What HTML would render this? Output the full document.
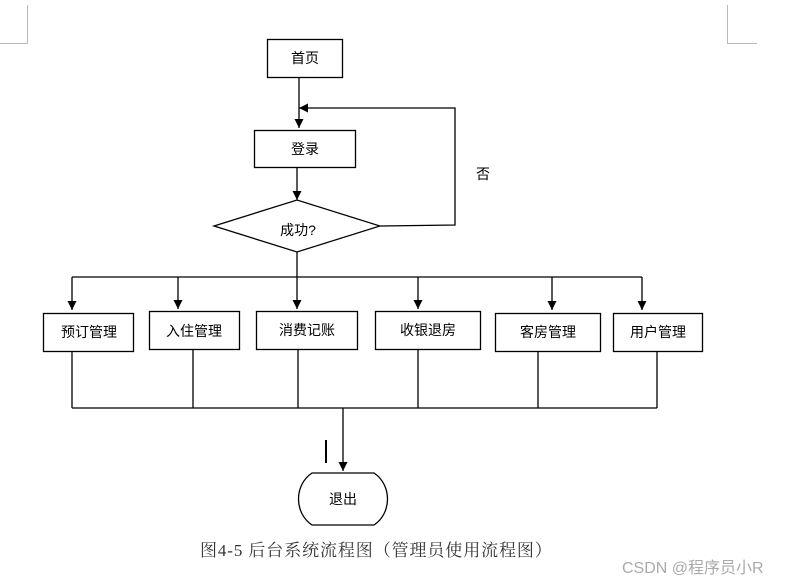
<!DOCTYPE html>
<html><head><meta charset="utf-8"><style>
html,body{margin:0;padding:0;background:#fff;width:793px;height:584px;overflow:hidden}
svg{display:block}
text{font-family:"Liberation Sans","Noto Sans CJK SC",sans-serif;font-size:14px;fill:#000}
</style></head><body>
<svg width="793" height="584" viewBox="0 0 793 584" xmlns="http://www.w3.org/2000/svg">
<defs><marker id="a" viewBox="0 0 10 10" refX="10" refY="5" markerWidth="7" markerHeight="7" orient="auto-start-reverse"><path d="M0,0L10,5L0,10z" fill="#000"/></marker></defs>
<g stroke="#bbb" fill="none" stroke-width="1">
<path d="M0,43.5H27.5V5"/><path d="M727.5,5V43.5H757"/>
</g>
<g stroke="#000" fill="none" stroke-width="1.3">
<rect x="267.5" y="39.5" width="75" height="38"/>
<rect x="254.5" y="130.5" width="101" height="37"/>
<path d="M214,226L297,200L380,226L297,252Z"/>
<path d="M299,78V128" marker-end="url(#a)"/>
<path d="M297,168V200" marker-end="url(#a)"/>
<path d="M380,226L455,225V108H299" marker-end="url(#a)"/>
<path d="M72,277H642"/>
<path d="M72,277V310" marker-end="url(#a)"/>
<path d="M178,277V309" marker-end="url(#a)"/>
<path d="M297,252V309" marker-end="url(#a)"/>
<path d="M418,277V309" marker-end="url(#a)"/>
<path d="M552,277V310" marker-end="url(#a)"/>
<path d="M642,277V310" marker-end="url(#a)"/>
<rect x="43.5" y="313.5" width="90" height="38"/>
<rect x="149.5" y="311.5" width="90" height="38"/>
<rect x="256.5" y="311.5" width="101" height="38"/>
<rect x="375.5" y="311.5" width="105" height="38"/>
<rect x="495.5" y="313.5" width="105" height="38"/>
<rect x="613.5" y="313.5" width="89" height="38"/>
<path d="M72,352V408M193,350V408M298,350V408M418,350V408M538,352V408M657,352V408M72,408H657"/>
<path d="M343,408V471" marker-end="url(#a)"/>
<path d="M326,440V463" stroke-width="2"/>
<path d="M312,473H374C392,485 392,513 374,525H312C294,513 294,485 312,473Z"/>
</g>
<g text-anchor="middle">
<text x="305" y="63">首页</text>
<text x="305" y="154">登录</text>
<text x="298" y="235">成功?</text>
<text x="483" y="179">否</text>
<text x="89" y="337">预订管理</text>
<text x="194" y="336">入住管理</text>
<text x="307" y="335">消费记账</text>
<text x="428" y="335">收银退房</text>
<text x="548" y="337">客房管理</text>
<text x="658" y="337">用户管理</text>
<text x="343" y="504">退出</text>
</g>
<text x="200" y="556" style="font-family:'Liberation Serif','Noto Serif CJK SC',serif;font-size:17px;letter-spacing:0.9px;fill:#333">图4-5 后台系统流程图（管理员使用流程图）</text>
<text x="622" y="573" style="font-size:16px;fill:#aaa">CSDN @程序员小R</text>
</svg>
</body></html>
